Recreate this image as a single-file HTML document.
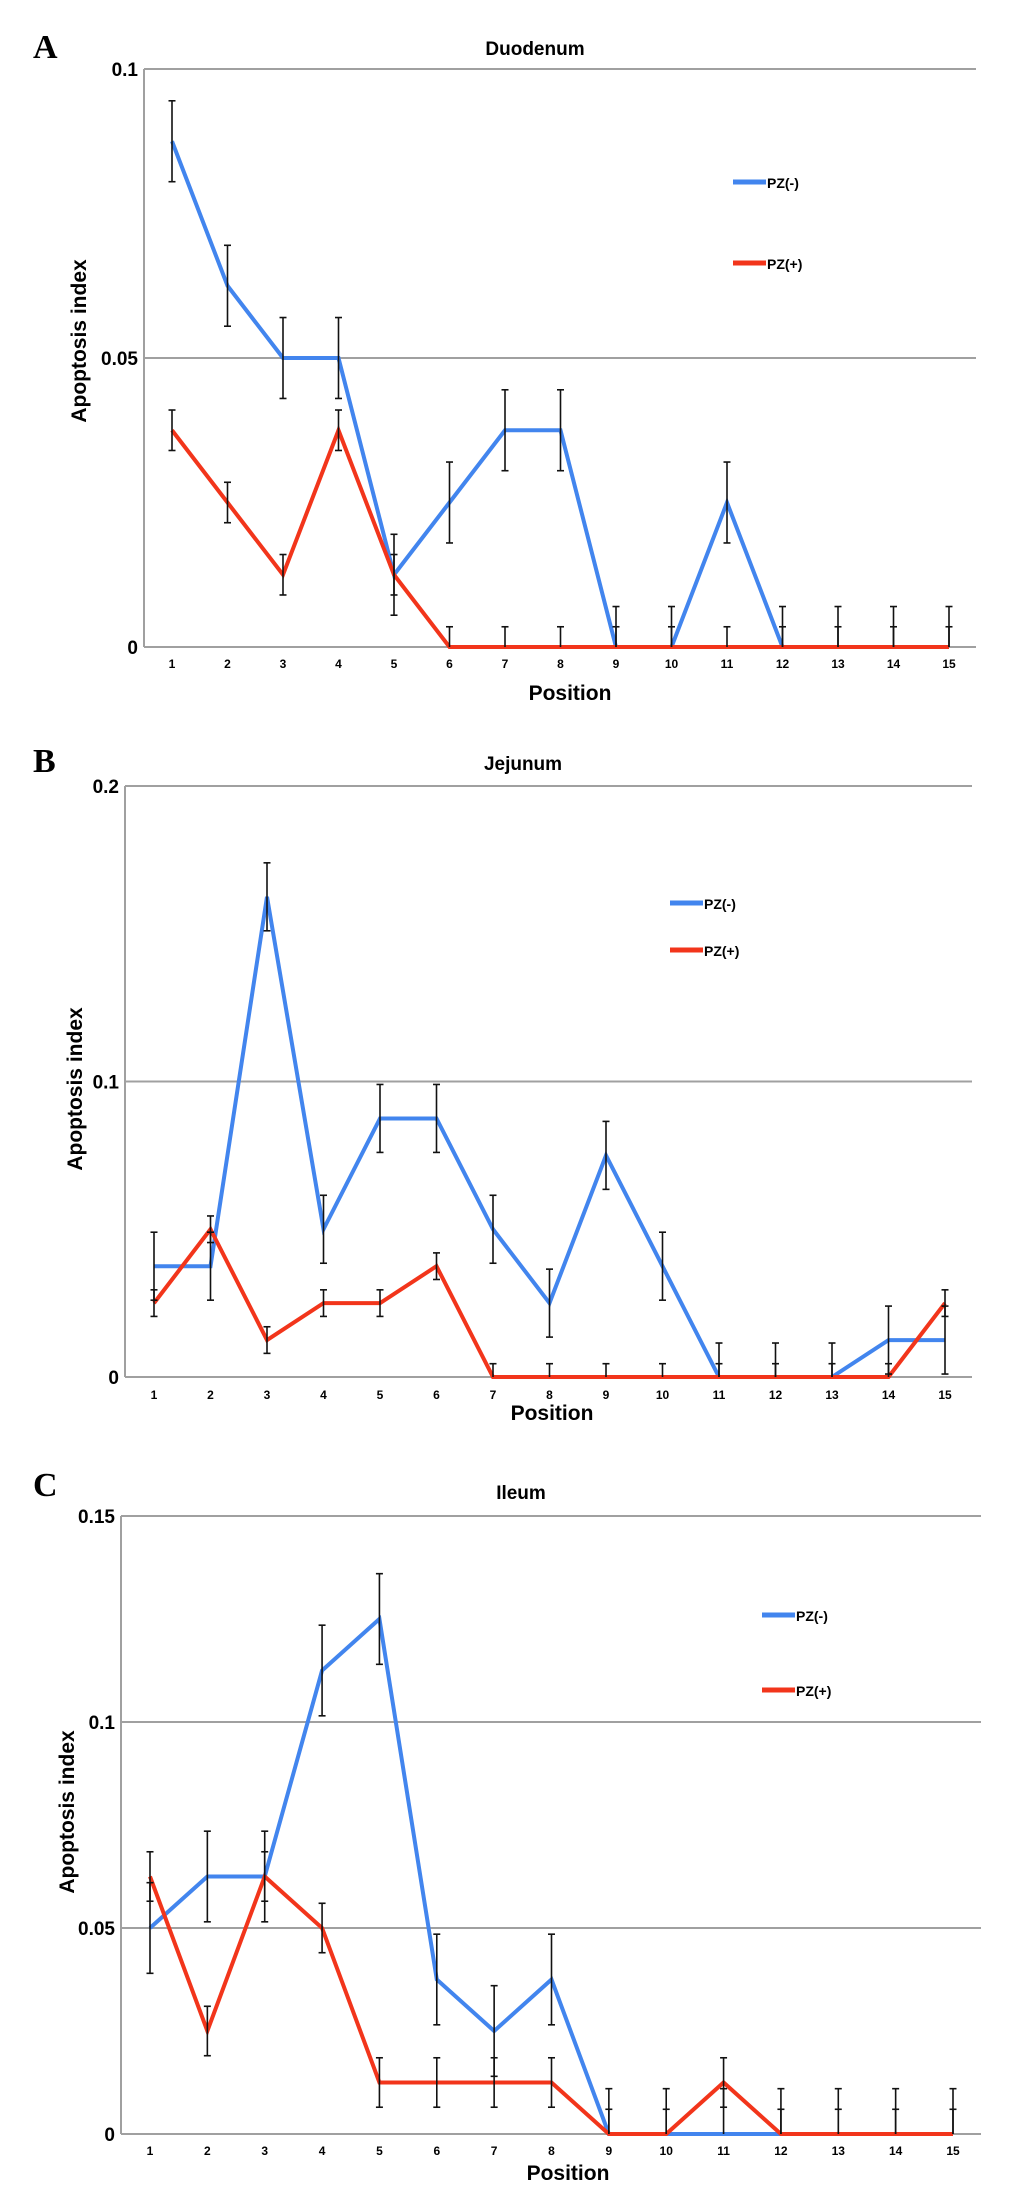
<!DOCTYPE html>
<html><head><meta charset="utf-8"><style>
html,body{margin:0;padding:0;background:#fff}
svg{display:block}
text{font-family:"Liberation Sans",sans-serif;font-weight:bold}
</style></head><body>
<svg id="fig" width="1033" height="2187" viewBox="0 0 1033 2187" xmlns="http://www.w3.org/2000/svg"></svg>
<script>
const positions=[1,2,3,4,5,6,7,8,9,10,11,12,13,14,15];
const duoBlue=[0.0875,0.0625,0.05,0.05,0.0125,0.025,0.0375,0.0375,0,0,0.025,0,0,0,0];
const duoBlueErr=[0.007,0.007,0.007,0.007,0.007,0.007,0.007,0.007,0.007,0.007,0.007,0.007,0.007,0.007,0.007];
const duoRed=[0.0375,0.025,0.0125,0.0375,0.0125,0,0,0,0,0,0,0,0,0,0];
const duoRedErr=[0.0035,0.0035,0.0035,0.0035,0.0035,0.0035,0.0035,0.0035,0.0035,0.0035,0.0035,0.0035,0.0035,0.0035,0.0035];
const duoTicks=[0,0.05,0.1];
const duoTickLabels=["0","0.05","0.1"];
const jejBlue=[0.0375,0.0375,0.1625,0.05,0.0875,0.0875,0.05,0.025,0.075,0.0375,0,0,0,0.0125,0.0125];
const jejBlueErr=[0.0115,0.0115,0.0115,0.0115,0.0115,0.0115,0.0115,0.0115,0.0115,0.0115,0.0115,0.0115,0.0115,0.0115,0.0115];
const jejRed=[0.025,0.05,0.0125,0.025,0.025,0.0375,0,0,0,0,0,0,0,0,0.025];
const jejRedErr=[0.0045,0.0045,0.0045,0.0045,0.0045,0.0045,0.0045,0.0045,0.0045,0.0045,0.0045,0.0045,0.0045,0.0045,0.0045];
const jejTicks=[0,0.1,0.2];
const jejTickLabels=["0","0.1","0.2"];
const ileBlue=[0.05,0.0625,0.0625,0.1125,0.125,0.0375,0.025,0.0375,0,0,0,0,0,0,0];
const ileBlueErr=[0.011,0.011,0.011,0.011,0.011,0.011,0.011,0.011,0.011,0.011,0.011,0.011,0.011,0.011,0.011];
const ileRed=[0.0625,0.025,0.0625,0.05,0.0125,0.0125,0.0125,0.0125,0,0,0.0125,0,0,0,0];
const ileRedErr=[0.006,0.006,0.006,0.006,0.006,0.006,0.006,0.006,0.006,0.006,0.006,0.006,0.006,0.006,0.006];
const ileTicks=[0,0.05,0.1,0.15];
const ileTickLabels=["0","0.05","0.1","0.15"];

const NS="http://www.w3.org/2000/svg";
const svg=document.getElementById('fig');
function mk(tag,attrs,parent,txt){const e=document.createElementNS(NS,tag);for(const k in attrs)e.setAttribute(k,attrs[k]);if(txt!==undefined)e.textContent=txt;(parent||svg).appendChild(e);return e;}
const BLUE="#4285ee",RED="#f2351b";

function panel(p){
  const g=mk('g',{});
  
  
  const y=v=>p.y0-(v/p.ymax)*(p.y0-p.ytop);
  const x=i=>p.x1+(i-1)*(p.x15-p.x1)/14;
  const L=mk('text',{x:p.lx,y:p.ly,style:'font-family:"Liberation Serif",serif;font-size:34px;font-weight:bold'},g,p.letter);
  
  
  const T=mk('text',{x:p.tx,y:p.ty,'font-size':19,'text-anchor':'middle'},g,p.title);
  
  
  p.ticks.forEach((t,k)=>{
    const gl=mk('line',{x1:p.ax,x2:p.right,y1:y(t),y2:y(t),stroke:'#a0a0a0','stroke-width':2},g);
    
    
    const tl=mk('text',{x:p.ax-6,y:y(t)+7,'font-size':19,'text-anchor':'end'},g,p.tickLabels[k]);
    
    
  });
  const ax=mk('line',{x1:p.ax,x2:p.ax,y1:p.ytop,y2:p.y0,stroke:'#a0a0a0','stroke-width':2},g);
  
  
  positions.forEach(pp=>{
    const t=mk('text',{x:x(pp),y:p.tickY,'font-size':12,'text-anchor':'middle'},g,String(pp));
    
    
  });
  const xt=mk('text',{x:p.xtx,y:p.xty,'font-size':21,'text-anchor':'middle'},g,'Position');
  
  
  const yt=mk('text',{x:0,y:0,'font-size':21,'text-anchor':'middle',transform:`translate(${p.ytx},${p.yty}) rotate(-90)`},g,'Apoptosis index');
  
  
  const series=[[p.blue,p.blueErr,BLUE,'pz-minus'],[p.red,p.redErr,RED,'pz-plus']];
  series.forEach(([vals,errs,col,nm])=>{
    const pl=mk('polyline',{points:vals.map((v,i)=>x(positions[i])+','+y(v)).join(' '),fill:'none',stroke:col,'stroke-width':4,'stroke-linejoin':'miter'},g);
    
    
  });
  series.forEach(([vals,errs,col,nm])=>{
    vals.forEach((v,i)=>{
      const hi=v+errs[i],lo=Math.max(0,v-errs[i]);const cx=x(positions[i]);
      const eg=mk('g',{stroke:'#111','stroke-width':1.6},g);
      
      
      mk('line',{x1:cx,x2:cx,y1:y(hi),y2:y(lo)},eg);
      mk('line',{x1:cx-3.5,x2:cx+3.5,y1:y(hi),y2:y(hi)},eg);
      if(lo>0)mk('line',{x1:cx-3.5,x2:cx+3.5,y1:y(lo),y2:y(lo)},eg);
    });
  });
  [[p.legY1,BLUE,'PZ(-)','legend-entry-pz-minus'],[p.legY2,RED,'PZ(+)','legend-entry-pz-plus']].forEach(([ly,col,lab,nm])=>{
    const lg=mk('g',{},g);
    
    
    mk('line',{x1:p.legX,x2:p.legX+33,y1:ly,y2:ly,stroke:col,'stroke-width':5},lg);
    mk('text',{x:p.legX+34,y:ly+6,'font-size':14},lg,lab);
  });
}
panel({name:'duodenum',letter:'A',title:'Duodenum',lx:33,ly:58,tx:535,ty:55,ax:144,right:976,ytop:69,y0:647,ymax:0.1,x1:172,x15:949,
  ticks:duoTicks,tickLabels:duoTickLabels,tickY:668,xtx:570,xty:700,ytx:86,yty:341,
  blue:duoBlue,blueErr:duoBlueErr,red:duoRed,redErr:duoRedErr,legX:733,legY1:182,legY2:263});
panel({name:'jejunum',letter:'B',title:'Jejunum',lx:33,ly:772,tx:523,ty:770,ax:125,right:972,ytop:786,y0:1377,ymax:0.2,x1:154,x15:945,
  ticks:jejTicks,tickLabels:jejTickLabels,tickY:1399,xtx:552,xty:1420,ytx:82,yty:1089,
  blue:jejBlue,blueErr:jejBlueErr,red:jejRed,redErr:jejRedErr,legX:670,legY1:903,legY2:950});
panel({name:'ileum',letter:'C',title:'Ileum',lx:33,ly:1496,tx:521,ty:1499,ax:121,right:981,ytop:1516,y0:2134,ymax:0.15,x1:150,x15:953,
  ticks:ileTicks,tickLabels:ileTickLabels,tickY:2155,xtx:568,xty:2180,ytx:74,yty:1812,
  blue:ileBlue,blueErr:ileBlueErr,red:ileRed,redErr:ileRedErr,legX:762,legY1:1615,legY2:1690});
</script>
</body></html>
